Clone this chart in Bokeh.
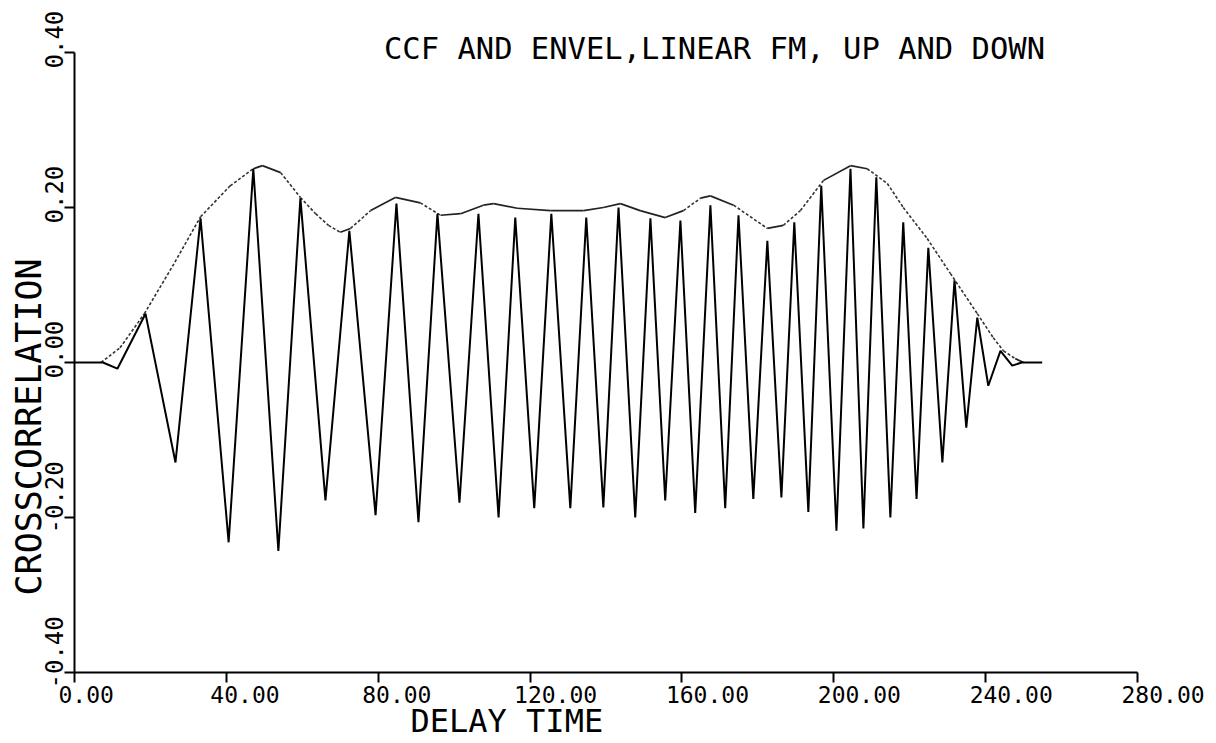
import math
from bokeh.plotting import figure
from bokeh.models import Range1d, FixedTicker, Label
from bokeh.embed import file_html
from bokeh.resources import INLINE

# ---- data ----
# cross-correlation function (turning points), delay time vs value
ccf_delay = [0.0, 7.5, 11.3, 18.7, 26.6, 33.2, 40.6, 47.1, 53.7, 59.5, 66.1, 72.4,
             79.3, 84.8, 90.6, 95.6, 101.4, 106.4, 111.7, 116.1, 121.1, 125.6, 130.6,
             134.8, 139.3, 143.3, 147.7, 151.7, 155.6, 159.6, 163.5, 167.5, 171.4,
             174.9, 178.8, 182.5, 186.2, 189.6, 193.3, 196.7, 200.7, 204.4, 207.8,
             211.2, 214.9, 218.3, 221.8, 224.9, 228.6, 231.8, 234.9, 237.8, 240.7,
             243.9, 247.0, 249.5, 254.9]
ccf_value = [0.0, 0.0, -0.008, 0.063, -0.129, 0.186, -0.232, 0.250, -0.243, 0.212, -0.178, 0.170,
             -0.197, 0.205, -0.206, 0.192, -0.181, 0.192, -0.200, 0.187, -0.188, 0.192, -0.188,
             0.187, -0.187, 0.200, -0.200, 0.186, -0.178, 0.183, -0.194, 0.203, -0.188,
             0.190, -0.176, 0.157, -0.174, 0.181, -0.193, 0.228, -0.217, 0.250, -0.214,
             0.239, -0.200, 0.181, -0.176, 0.148, -0.129, 0.106, -0.084, 0.058, -0.030,
             0.015, -0.004, 0.0, 0.0]

# envelope
env_delay = [7.0, 12.0, 18.4, 25.8, 33.2, 41.0, 47.1, 49.5, 54.3, 59.5, 63.5, 66.9, 70.0,
             72.7, 78.0, 84.5, 91.1, 96.4, 101.7, 107.7, 110.4, 116.6, 125.4, 134.1,
             139.3, 143.8, 149.0, 155.6, 160.4, 164.9, 167.5, 173.6, 182.5, 186.7,
             191.2, 197.3, 204.4, 208.8, 214.1, 218.3, 224.6, 230.7, 237.8, 242.0,
             244.7, 247.8, 250.0]
env_value = [0.0, 0.019, 0.063, 0.124, 0.188, 0.228, 0.250, 0.254, 0.245, 0.213, 0.192, 0.177, 0.168,
             0.173, 0.196, 0.213, 0.206, 0.190, 0.192, 0.203, 0.205, 0.199, 0.196, 0.196,
             0.200, 0.205, 0.196, 0.187, 0.196, 0.212, 0.215, 0.203, 0.173, 0.177,
             0.196, 0.235, 0.254, 0.250, 0.231, 0.200, 0.160, 0.115, 0.063, 0.032,
             0.015, 0.005, 0.0]

x_ticks = [0, 40, 80, 120, 160, 200, 240, 280]
x_tick_labels = ["0.00", "40.00", "80.00", "120.00", "160.00", "200.00", "240.00", "280.00"]
y_ticks = [-0.4, -0.2, 0.0, 0.2, 0.4]
y_tick_labels = ["-0.40", "-0.20", "0.00", "0.20", "0.40"]

title_text = "CCF AND ENVEL,LINEAR FM, UP AND DOWN"
x_label = "DELAY TIME"
y_label = "CROSSCORRELATION"

FONT = "DejaVu Sans Mono"
X0, X1 = 0, 280
Y0, Y1 = -0.4, 0.4

# layout: canvas size and where the axis box sits on it (pixels)
W, H = 1212, 741
AX_LEFT, AX_TOP, AX_W, AX_H = 74, 52, 1063, 620
PXX = AX_W / (X1 - X0)     # pixels per data unit
PXY = AX_H / (Y1 - Y0)
dx = 1.0 / PXX             # data units per pixel
dy = 1.0 / PXY

p = figure(width=W, height=H,
           x_range=Range1d(X0 - AX_LEFT * dx, X0 + (W - AX_LEFT) * dx),
           y_range=Range1d(Y1 - (H - AX_TOP) * dy, Y1 + AX_TOP * dy),
           output_backend="svg", toolbar_location=None, min_border=0)
p.title.visible = False
p.xgrid.visible = False
p.ygrid.visible = False
p.outline_line_color = None
p.background_fill_color = "white"
p.border_fill_color = "white"

for ax in (p.xaxis[0], p.yaxis[0]):
    ax.axis_line_width = 2
    ax.axis_line_color = "black"
    ax.major_tick_line_width = 2
    ax.major_tick_line_color = "black"
    ax.major_tick_in = 0
    ax.major_tick_out = 10
    ax.minor_tick_line_color = None
    ax.major_label_standoff = 0

p.xaxis[0].ticker = FixedTicker(ticks=x_ticks)
p.xaxis[0].major_label_overrides = {t: "" for t in x_ticks}
p.yaxis[0].ticker = FixedTicker(ticks=y_ticks)
p.yaxis[0].major_label_overrides = {t: "" for t in y_ticks}
p.xaxis[0].fixed_location = Y0
p.yaxis[0].fixed_location = X0
p.yaxis[0].bounds = (Y0, Y1)
p.xaxis[0].bounds = (X0, X1)

# envelope: plotter drew it solid where flat and dotted where steep
flat_xs, flat_ys, steep_xs, steep_ys = [], [], [], []
for i in range(len(env_delay) - 1):
    seg_x = [env_delay[i], env_delay[i + 1]]
    seg_y = [env_value[i], env_value[i + 1]]
    slope = abs((seg_y[1] - seg_y[0]) * PXY) / max(abs((seg_x[1] - seg_x[0]) * PXX), 1e-9)
    if slope > 0.55:
        steep_xs.append(seg_x); steep_ys.append(seg_y)
    else:
        flat_xs.append(seg_x); flat_ys.append(seg_y)
p.multi_line(flat_xs, flat_ys, line_color="#222222", line_width=1.7)
p.multi_line(steep_xs, steep_ys, line_color="#333333", line_width=1.6, line_dash="3 2")

p.line(ccf_delay, ccf_value, line_color="black", line_width=2.0)

# tick labels (plotter style: left-justified next to the tick)
for t, s in zip(x_ticks, x_tick_labels):
    p.add_layout(Label(x=t, y=Y0 - 22 * dy, x_offset=-16, text=s,
                       text_align="left", text_baseline="middle",
                       text_font=FONT, text_font_size="23px", text_color="black"))
for t, s in zip(y_ticks, y_tick_labels):
    p.add_layout(Label(x=X0, y=t - 16 * dy, x_offset=-21, text=s, angle=math.pi / 2,
                       text_align="left", text_baseline="middle",
                       text_font=FONT, text_font_size="24px", text_color="black"))

# titles
p.add_layout(Label(x=X0 + 640 * dx, y=Y1 + 4 * dy, text=title_text, text_align="center",
                   text_baseline="middle", text_font=FONT, text_font_size="30.5px",
                   text_color="black"))
p.add_layout(Label(x=X0 + 336 * dx, y=Y0 - 48.5 * dy, text=x_label, text_align="left",
                   text_baseline="middle", text_font=FONT, text_font_size="32px",
                   text_color="black"))
p.add_layout(Label(x=X0, y=Y0 + 77 * dy, x_offset=-45.5, text=y_label, angle=math.pi / 2,
                   text_align="left", text_baseline="middle", text_font=FONT,
                   text_font_size="35px", text_color="black"))

open("out.html", "w").write(file_html(p, INLINE))
